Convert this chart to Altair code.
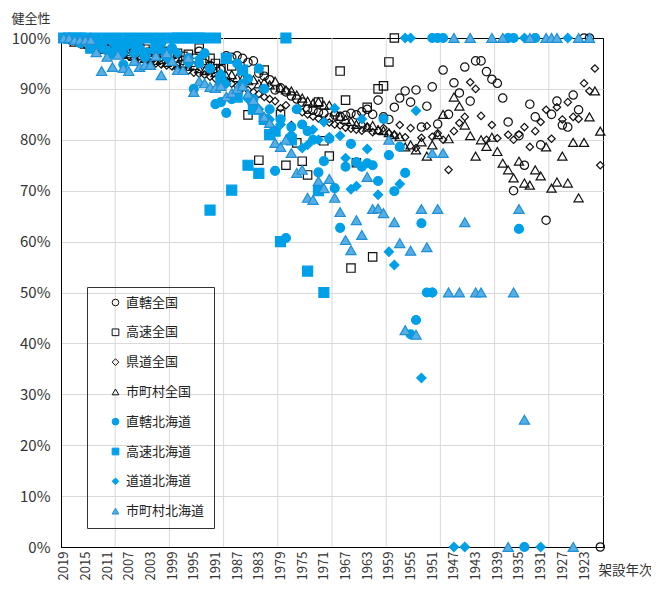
import altair as alt
import pandas as pd

FONT = "Noto Sans CJK JP"

SERIES = ["直轄全国", "高速全国", "県道全国", "市町村全国",
          "直轄北海道", "高速北海道", "道道北海道", "市町村北海道"]

# (year, value %) pairs
C_NAT = [(2019,100),(2018,100),(2017,99.6),(2016,99.2),(2015,99.0),(2014,98.8),(2013,98.4),(2012,98.6),
         (2011,98.0),(2010,98.2),(2009,97.6),(2008,97.8),(2007,97.4),(2006,97.2),(2005,97.5),(2004,97.0),
         (2003,96.6),(2002,96.8),(2001,96.4),(2000,96.2),(1999,96.5),(1998,96.0),(1997,95.6),(1996,95.8),
         (1995,95.2),(1994,97.4),(1993,95.0),(1992,94.6),(1991,94.0),(1990,93.8),(1989,96.5),(1988,96.2),
         (1987,96.5),(1986,96.0),(1985,95.2),(1984,95.5),(1983,93.1),(1982,92.5),(1981,91.8),(1980,89.8),
         (1979,90.2),(1978,89.4),(1977,88.6),(1976,88.0),(1975,87.4),(1974,86.0),(1973,85.8),(1972,85.4),
         (1971,85.2),(1970,84.3),(1969,84.9),(1968,84.6),(1967,84.8),(1966,85.2),(1965,84.9),(1964,85.5),
         (1963,86.0),(1962,85.0),(1961,87.8),(1960,84.5),(1959,84.0),(1958,86.4),(1957,88.2),(1956,89.6),
         (1955,87.4),(1954,89.8),(1953,82.5),(1952,86.6),(1951,90.4),(1950,83.1),(1949,93.7),(1948,85.0),
         (1947,91.2),(1946,89.2),(1945,94.3),(1944,87.6),(1943,95.5),(1942,95.5),(1941,93.4),(1940,91.9),
         (1939,91.1),(1938,88.2),(1937,83.5),(1936,70.0),(1935,80.8),(1934,75.0),(1933,87.0),(1932,84.5),
         (1931,79.0),(1930,64.2),(1929,85.0),(1928,87.6),(1927,82.9),(1926,82.5),(1925,88.8),(1924,85.9),
         (1923,100),(1922,100),(1920,0)]

S_NAT = [(2019,100),(2018,100),(2017,100),(2016,99.5),(2015,99.8),(2014,99.0),(2013,99.4),(2012,98.8),
         (2011,99.0),(2010,98.4),(2009,98.8),(2008,98.0),(2007,98.4),(2006,97.6),(2005,98.0),(2004,97.8),
         (2003,97.2),(2002,97.6),(2001,97.0),(2000,97.4),(1999,96.8),(1998,97.0),(1997,96.4),(1996,96.8),
         (1995,96.0),(1994,98.0),(1993,95.6),(1992,96.0),(1991,95.0),(1990,94.0),(1988,94.5),(1985,84.9),
         (1983,76.0),(1982,93.7),(1979,85.0),(1978,75.0),(1976,79.4),(1975,75.8),(1974,73.1),(1972,87.4),
         (1971,79.8),(1970,76.8),(1968,93.5),(1967,87.8),(1966,54.8),(1965,75.5),(1963,86.4),(1962,57.0),
         (1961,90.0),(1960,90.6),(1959,95.3),(1958,100)]

K_NAT = [(2019,100),(2018,99.6),(2017,99.4),(2016,99.0),(2015,98.6),(2014,98.4),(2013,98.0),(2012,97.8),
         (2011,97.5),(2010,97.2),(2009,97.0),(2008,96.6),(2007,96.4),(2006,96.0),(2005,95.8),(2004,95.6),
         (2003,95.2),(2002,95.0),(2001,94.8),(2000,94.6),(1999,94.4),(1998,94.0),(1997,93.8),(1996,93.6),
         (1995,93.2),(1994,93.0),(1993,92.8),(1992,92.4),(1991,92.0),(1990,91.8),(1989,91.5),(1988,91.0),
         (1987,90.6),(1986,90.2),(1985,89.8),(1984,89.4),(1983,89.0),(1982,88.4),(1981,88.0),(1980,87.6),
         (1979,86.2),(1978,86.8),(1977,82.9),(1976,86.0),(1975,85.4),(1974,85.0),(1973,84.6),(1972,84.2),
         (1971,83.8),(1970,83.4),(1969,83.0),(1968,82.8),(1967,82.4),(1966,82.2),(1965,82.0),(1964,81.8),
         (1963,82.6),(1962,81.5),(1961,81.8),(1960,82.3),(1959,81.3),(1958,81.0),(1957,82.9),(1956,80.5),
         (1955,82.3),(1954,78.4),(1953,80.4),(1952,82.7),(1951,80.6),(1950,81.3),(1949,80.0),(1948,74.1),
         (1947,81.7),(1946,83.3),(1945,84.5),(1944,91.3),(1943,90.0),(1942,84.7),(1941,80.0),(1940,82.9),
         (1939,80.3),(1937,81.0),(1936,80.0),(1935,81.1),(1934,82.5),(1933,78.6),(1932,81.7),(1931,83.5),
         (1930,85.9),(1929,80.2),(1928,86.4),(1927,84.0),(1926,87.4),(1925,84.5),(1924,84.1),(1923,91.1),
         (1922,89.6),(1921,94.0),(1920,75.0)]

M_NAT = [(2019,100),(2018,99.8),(2017,99.2),(2016,99.5),(2015,98.8),(2014,98.2),(2013,98.6),(2012,97.8),
         (2011,98.0),(2010,97.2),(2009,97.6),(2008,96.8),(2007,97.0),(2006,96.4),(2005,96.6),(2004,96.0),
         (2003,96.2),(2002,95.6),(2001,95.8),(2000,95.2),(1999,95.4),(1998,94.8),(1997,95.0),(1996,94.4),
         (1995,94.6),(1994,94.0),(1993,93.6),(1992,93.8),(1991,93.2),(1990,93.0),(1989,92.6),(1988,92.8),
         (1987,92.2),(1986,92.0),(1985,91.6),(1984,91.8),(1983,91.0),(1982,91.3),(1981,90.8),(1980,91.5),
         (1979,90.2),(1978,89.8),(1977,89.6),(1976,88.8),(1975,88.2),(1974,87.6),(1973,87.2),(1972,87.5),
         (1971,86.8),(1970,86.8),(1969,85.5),(1968,84.6),(1967,84.0),(1966,83.6),(1965,83.0),(1964,83.3),
         (1963,82.5),(1962,82.8),(1961,82.0),(1960,81.8),(1959,81.4),(1958,81.0),(1957,80.6),(1956,78.6),
         (1955,79.0),(1954,78.0),(1953,79.6),(1952,76.8),(1951,79.0),(1950,81.0),(1949,85.0),(1948,80.2),
         (1947,88.4),(1946,86.6),(1945,82.9),(1944,80.8),(1943,76.8),(1942,80.0),(1941,78.7),(1940,80.5),
         (1939,77.7),(1938,75.4),(1937,74.1),(1936,72.5),(1935,75.8),(1934,71.5),(1933,71.1),(1932,74.1),
         (1931,72.9),(1930,78.6),(1929,70.5),(1928,71.7),(1927,76.8),(1926,71.5),(1925,79.5),(1924,68.6),
         (1923,79.5),(1922,84.5),(1921,89.6),(1920,81.7)]

C_HKD = [(2019,100),(2018,100),(2017,100),(2016,99.0),(2015,100),(2014,98.5),(2013,100),(2012,99.0),
         (2011,97.5),(2010,100),(2009,98.0),(2008,94.8),(2007,99.0),(2006,97.0),(2005,98.0),(2004,96.2),
         (2003,100),(2002,97.5),(2001,99.0),(2000,96.5),(1999,98.0),(1998,100),(1997,100),(1996,96.0),
         (1995,90.0),(1994,95.0),(1993,97.0),(1992,94.0),(1991,87.0),(1990,87.4),(1989,85.3),(1988,88.0),
         (1987,95.0),(1986,91.0),(1985,92.0),(1984,88.0),(1983,94.0),(1982,90.0),(1981,86.0),(1980,73.9),
         (1979,84.0),(1978,60.7),(1977,82.5),(1976,86.0),(1975,83.0),(1974,81.7),(1973,80.0),(1972,73.6),
         (1971,75.8),(1970,80.2),(1969,70.5),(1968,62.7),(1967,74.7),(1966,79.2),(1965,75.6),(1964,74.7),
         (1963,75.4),(1962,75.0),(1961,71.9),(1960,84.1),(1959,77.0),(1958,69.9),(1957,78.6),(1956,73.5),
         (1955,41.8),(1954,44.6),(1953,63.6),(1952,50.0),(1951,50.0),(1951,100),(1950,100),(1949,100),
         (1937,100),(1936,100),(1935,62.5),(1934,0),(1932,100)]

S_HKD = [(2019,100),(2018,100),(2017,100),(2016,100),(2015,100),(2014,98.0),(2013,100),(2012,99.0),
         (2011,100),(2010,97.0),(2009,100),(2008,98.5),(2007,100),(2006,99.0),(2005,100),(2004,97.0),
         (2003,100),(2002,98.0),(2001,100),(2000,97.0),(1999,100),(1998,100),(1997,100),(1996,100),
         (1995,100),(1994,100),(1993,100),(1992,66.2),(1991,100),(1990,91.7),(1989,96.0),(1988,70.1),
         (1987,88.4),(1986,93.7),(1985,75.0),(1984,86.0),(1983,73.4),(1982,84.0),(1981,81.0),(1980,81.7),
         (1979,60.0),(1978,100),(1977,80.0),(1974,54.2),(1972,70.0),(1971,50.0)]

K_HKD = [(2019,100),(2018,100),(2016,99.0),(2014,100),(2012,98.0),(2010,99.0),(2008,97.0),(2006,98.5),
         (2004,96.5),(2002,98.0),(2000,96.0),(1998,97.0),(1996,95.0),(1994,96.0),(1992,94.0),(1990,93.0),
         (1989,91.0),(1987,89.0),(1985,88.0),(1983,86.0),(1981,84.0),(1979,83.0),(1977,81.0),(1975,78.4),
         (1974,79.0),(1973,82.0),(1972,80.0),(1971,83.5),(1970,80.5),(1969,86.2),(1968,80.8),(1967,76.4),
         (1966,70.3),(1965,70.9),(1964,84.1),(1963,78.2),(1961,69.2),(1959,58.0),(1958,55.4),(1957,71.3),
         (1956,100),(1955,100),(1954,85.7),(1953,33.2),(1951,50.0),(1947,0),(1945,0),(1937,100),
         (1934,100),(1931,0),(1926,100)]

M_HKD = [(2019,100),(2018,100),(2017,99.6),(2016,99.6),(2015,99.6),(2014,99.6),(2013,97.2),(2012,93.5),
         (2011,96.3),(2010,94.3),(2009,96.7),(2008,94.1),(2007,93.5),(2006,95.5),(2005,94.3),(2004,94.7),
         (2003,94.7),(2002,96.5),(2001,92.7),(2000,97.0),(1999,95.5),(1998,93.7),(1997,93.7),(1996,96.1),
         (1995,89.4),(1994,91.5),(1993,91.1),(1992,90.4),(1991,90.2),(1990,90.6),(1989,88.5),(1988,89.2),
         (1987,90.0),(1986,90.6),(1985,89.0),(1984,87.8),(1983,86.0),(1982,84.5),(1981,83.3),(1980,79.4),
         (1979,78.6),(1978,80.0),(1977,77.4),(1976,73.5),(1975,74.1),(1974,68.6),(1973,68.2),(1972,71.9),
         (1971,70.5),(1970,72.3),(1969,68.6),(1968,65.8),(1967,60.3),(1966,58.3),(1965,64.2),(1964,61.3),
         (1963,72.7),(1962,66.4),(1961,66.5),(1960,65.6),(1959,80.0),(1958,63.8),(1957,59.7),(1956,42.6),
         (1955,58.2),(1954,41.7),(1953,66.4),(1952,58.9),(1951,77.4),(1950,66.4),(1949,77.4),(1948,50.0),
         (1947,100),(1946,50.0),(1945,63.8),(1944,100),(1943,50.0),(1942,50.0),(1940,100),(1938,100),
         (1937,0),(1936,50.0),(1935,66.4),(1934,25.0),(1933,100),(1930,100),(1929,100),(1928,100),
         (1925,0),(1924,100),(1922,100)]

DATA = [C_NAT, S_NAT, K_NAT, M_NAT, C_HKD, S_HKD, K_HKD, M_HKD]

X_TICKS = list(range(2019, 1920, -4))
Y_TICKS = list(range(0, 101, 10))
GRID_YEARS = [2009.5 - 10 * i for i in range(9)]

# styles
SHAPES = ["circle", "square", "diamond", "triangle-up"] * 2
BLUE = "#00A0E9"
FILLS = ["transparent"] * 4 + [BLUE, BLUE, BLUE, "#55AEE4"]
STROKES = ["#111111"] * 4 + [BLUE, BLUE, BLUE, "#1F8FD6"]
SIZES = [70, 70, 55, 85, 80, 100, 85, 105]

rows = []
for i, (name, pts) in enumerate(zip(SERIES, DATA)):
    for yr, v in pts:
        rows.append({"series": name, "year": yr, "value": v, "idx": i, "sz": SIZES[i]})
df = pd.DataFrame(rows)
grid_df = pd.DataFrame({"year": GRID_YEARS})

x_enc = alt.X("year:Q",
              scale=alt.Scale(domain=[1919.5, 2019.5], reverse=True, nice=False, zero=False),
              axis=alt.Axis(values=X_TICKS, format="d", labelAngle=270, labelFontSize=13,
                            labelColor="#333", labelPadding=4, grid=False, ticks=False,
                            domainColor="black", labelFlush=False, labelOverlap=False,
                            title="架設年次", titleAngle=0, titleAlign="left",
                            titleBaseline="middle", titleX=537, titleY=23,
                            titleFontSize=13.5, titleFontWeight="normal", titleColor="#333"))

legend = alt.Legend(title=None, orient="none", legendX=26, legendY=249,
                    strokeColor="#333", padding=9, symbolOffset=13, rowPadding=15.8,
                    labelFontSize=13, labelFont=FONT, labelColor="#222",
                    symbolSize=45, symbolStrokeWidth=1, labelOffset=4,
                    labelExpr="datum.label + '\u3000'")

grid = alt.Chart(grid_df).mark_rule(color="#d9d9d9", strokeWidth=1).encode(x=x_enc)

points = alt.Chart(df).mark_point(opacity=1, strokeWidth=1.2).encode(
    x=x_enc,
    y=alt.Y("value:Q",
            scale=alt.Scale(domain=[0, 100], nice=False),
            axis=alt.Axis(values=Y_TICKS, labelExpr="datum.value + '%'", labelFontSize=15,
                          labelColor="#333", ticks=False, labelPadding=11,
                          gridColor=alt.condition("datum.value >= 100 || datum.value <= 0",
                                                  alt.value("black"), alt.value("#d9d9d9")),
                          domainColor="black", labelFlush=False,
                          title="健全性", titleAngle=0, titleAlign="left",
                          titleBaseline="middle", titleX=-50, titleY=-20,
                          titleFontSize=13, titleFontWeight="normal", titleColor="#333")),
    shape=alt.Shape("series:N", scale=alt.Scale(domain=SERIES, range=SHAPES), legend=legend),
    fill=alt.Fill("series:N", scale=alt.Scale(domain=SERIES, range=FILLS), legend=legend),
    stroke=alt.Stroke("series:N", scale=alt.Scale(domain=SERIES, range=STROKES), legend=legend),
    size=alt.Size("sz:Q", scale=None, legend=None),
    order=alt.Order("idx:Q"),
)

chart = alt.layer(grid, points).properties(
    width=542, height=509,
    autosize=alt.AutoSizeParams(type="none"),
    padding={"left": 53, "top": 30, "right": 48, "bottom": 35},
).configure_view(stroke="black", strokeWidth=1).configure_axis(
    labelFont=FONT, titleFont=FONT
)

chart.save("out.html", embed_options={"renderer": "svg", "actions": False})
